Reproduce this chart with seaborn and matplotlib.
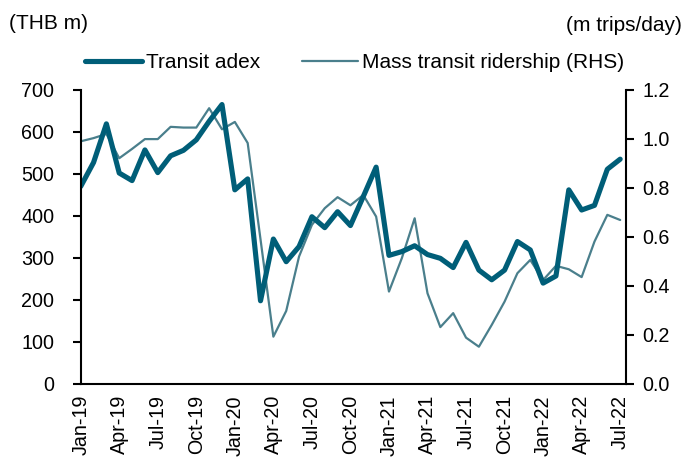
import pandas as pd
import numpy as np
import matplotlib
matplotlib.use("Agg")
import matplotlib.pyplot as plt
import seaborn as sns

# monthly data Jan-19 .. Jul-22
months = pd.date_range("2019-01-01", periods=43, freq="MS").strftime("%b-%y").tolist()

# Transit adex (THB m)
adex = [470, 527, 619, 502, 484, 557, 503, 543, 556, 581, 625, 665,
        462, 488, 198, 345, 291, 327, 398, 372, 410, 377, 446, 516,
        306, 315, 329, 308, 299, 277, 337, 271, 248, 271, 339, 319,
        240, 257, 462, 414, 425, 511, 535]

# Mass transit ridership (m trips/day, RHS)
ridership = [0.99, 1.003, 1.02, 0.921, 0.959, 0.999, 0.999, 1.049, 1.046, 1.046, 1.125, 1.039,
             1.069, 0.983, 0.59, 0.193, 0.298, 0.52, 0.649, 0.717, 0.762, 0.729, 0.771, 0.683,
             0.377, 0.513, 0.676, 0.37, 0.232, 0.289, 0.189, 0.152, 0.241, 0.336, 0.452, 0.506,
             0.424, 0.482, 0.468, 0.436, 0.581, 0.69, 0.669]

df = pd.DataFrame({"idx": np.arange(len(months)), "month": months,
                   "adex": adex, "ridership": ridership})

sns.set_style("white")
plt.rcParams["font.family"] = ["Liberation Sans", "DejaVu Sans"]
plt.rcParams["text.color"] = "black"
plt.rcParams["xtick.color"] = "black"
plt.rcParams["ytick.color"] = "black"

c_adex = "#005E78"
c_ride = "#4A7F8C"
fs_tick = 14.2
fs_text = 15

fig = plt.figure(figsize=(6.85, 4.76), dpi=100)
ax = fig.add_axes([0.1178, 0.1933, 0.796, 0.618])
ax2 = ax.twinx()

sns.lineplot(data=df, x="idx", y="ridership", ax=ax2, color=c_ride, linewidth=1.6,
             label="Mass transit ridership (RHS)", legend=False)
sns.lineplot(data=df, x="idx", y="adex", ax=ax, color=c_adex, linewidth=3.7,
             label="Transit adex", legend=False)

ax.set_zorder(ax2.get_zorder() + 1)
ax.patch.set_visible(False)

ax.set_xlim(0, 42.45)
ax.set_ylim(0, 700)
ax2.set_ylim(0, 1.2)
ax.set_yticks(range(0, 701, 100))
ax2.set_yticks(np.arange(0, 1.21, 0.2))
ax2.set_yticklabels([f"{v:.1f}" for v in np.arange(0, 1.21, 0.2)])
ax.set_xticks(df["idx"][::3])
ax.set_xticklabels(df["month"][::3], rotation=90)
ax.set_xlabel("")
ax.set_ylabel("")
ax2.set_ylabel("")

for a in (ax, ax2):
    a.spines["top"].set_visible(False)
    for s in ("left", "right", "bottom"):
        a.spines[s].set_color("black")
        a.spines[s].set_linewidth(1.5)
    a.tick_params(direction="out", length=6, width=1.5, color="black", labelsize=fs_tick)
ax.spines["right"].set_visible(False)
ax2.spines["left"].set_visible(False)
ax2.spines["bottom"].set_visible(False)
ax.tick_params(axis="x", pad=2)
ax.tick_params(axis="y", pad=13)
ax2.tick_params(axis="y", pad=6)

fig.text(0.013, 0.951, "(THB m)", ha="left", va="center", fontsize=fs_text)
fig.text(0.995, 0.946, "(m trips/day)", ha="right", va="center", fontsize=fs_text)

h1, l1 = ax.get_legend_handles_labels()
h2, l2 = ax2.get_legend_handles_labels()
fig.legend(h1 + h2, l1 + l2, loc="center", bbox_to_anchor=(0.518, 0.868), ncol=2,
           frameon=False, handlelength=2.7, columnspacing=2.0, handletextpad=0.2,
           fontsize=fs_text)

fig.savefig("out.png", dpi=100)
